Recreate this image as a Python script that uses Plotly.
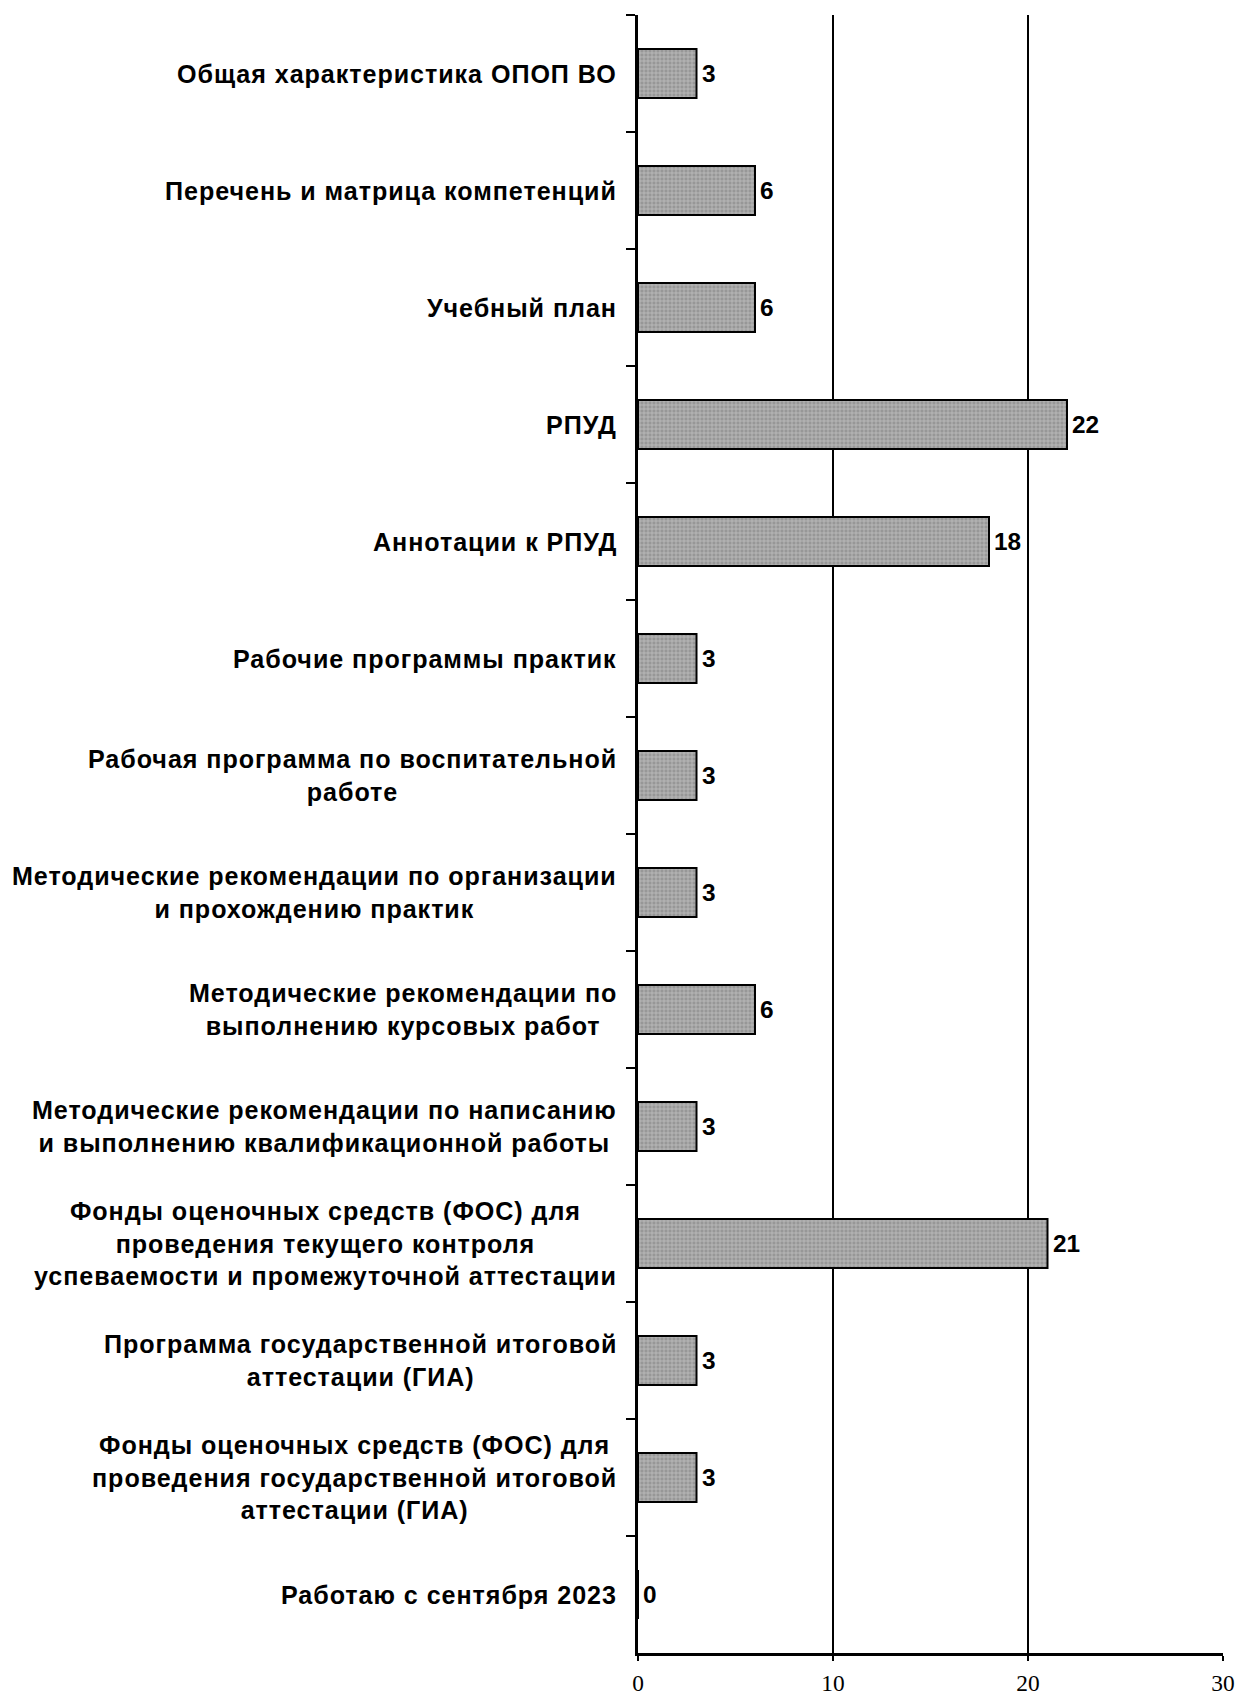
import plotly.graph_objects as go

categories = [
    "Общая характеристика ОПОП ВО",
    "Перечень и матрица компетенций",
    "Учебный план",
    "РПУД",
    "Аннотации к РПУД",
    "Рабочие программы практик",
    "Рабочая программа по воспитательной<br>работе",
    "Методические рекомендации по организации<br>и прохождению практик",
    "Методические рекомендации по<br>выполнению курсовых работ",
    "Методические рекомендации по написанию<br>и выполнению квалификационной работы",
    "Фонды оценочных средств (ФОС) для<br>проведения текущего контроля<br>успеваемости и промежуточной аттестации",
    "Программа государственной итоговой<br>аттестации (ГИА)",
    "Фонды оценочных средств (ФОС) для<br>проведения государственной итоговой<br>аттестации (ГИА)",
    "Работаю с сентября 2023",
]
values = [3, 6, 6, 22, 18, 3, 3, 3, 6, 3, 21, 3, 3, 0]
x_ticks = [0, 10, 20, 30]

ids = [str(i) for i in range(len(categories))]


def spaced(txt, ls):
    return "<br>".join(
        f"<span style='letter-spacing:{ls}px'>{line}</span>" for line in txt.split("<br>")
    )


fig = go.Figure()
fig.add_trace(go.Bar(
    x=values,
    y=ids,
    orientation="h",
    width=0.42,
    marker=dict(
        color="#979797",
        line=dict(color="black", width=2),
        pattern=dict(shape="+", fgcolor="#e6e6e6", bgcolor="#979797", size=4, solidity=0.35),
    ),
    hoverinfo="skip",
))

annotations = []
for cid, cat, v in zip(ids, categories, values):
    annotations.append(dict(
        x=0, xref="paper", y=cid, yref="y",
        text=spaced(cat, 0.95), showarrow=False, xanchor="right", xshift=-19,
        align="center",
        font=dict(family="Liberation Sans, Arial", size=25.1, color="black", weight="bold"),
    ))
    annotations.append(dict(
        x=v, xref="x", y=cid, yref="y",
        text=str(v), showarrow=False, xanchor="left", xshift=3,
        font=dict(family="Liberation Sans, Arial", size=24.4, color="black", weight="bold"),
    ))

fig.update_layout(
    width=1256, height=1708,
    margin=dict(l=638, r=33, t=15, b=36),
    paper_bgcolor="white", plot_bgcolor="white",
    showlegend=False,
    annotations=annotations,
    xaxis=dict(
        range=[0, 30], tickvals=x_ticks, ticktext=[str(t) for t in x_ticks],
        showgrid=True, gridcolor="black", gridwidth=2,
        zeroline=False, showline=True, linecolor="black", linewidth=2.5,
        ticks="outside", ticklen=5, tickwidth=2, tickcolor="black",
        ticklabelstandoff=2,
        tickfont=dict(family="Liberation Serif, Times New Roman", size=23.4, color="black"),
    ),
    yaxis=dict(
        type="category", categoryorder="array", categoryarray=ids,
        autorange="reversed", tickson="boundaries",
        showticklabels=False, showgrid=False, zeroline=False,
        showline=True, linecolor="black", linewidth=2.5,
        ticks="outside", ticklen=9, tickwidth=2, tickcolor="black",
    ),
)

fig.write_html(
    "out.html",
    config={"displayModeBar": False},
    post_script="document.body.style.margin='0px';document.body.style.overflow='hidden';",
)
